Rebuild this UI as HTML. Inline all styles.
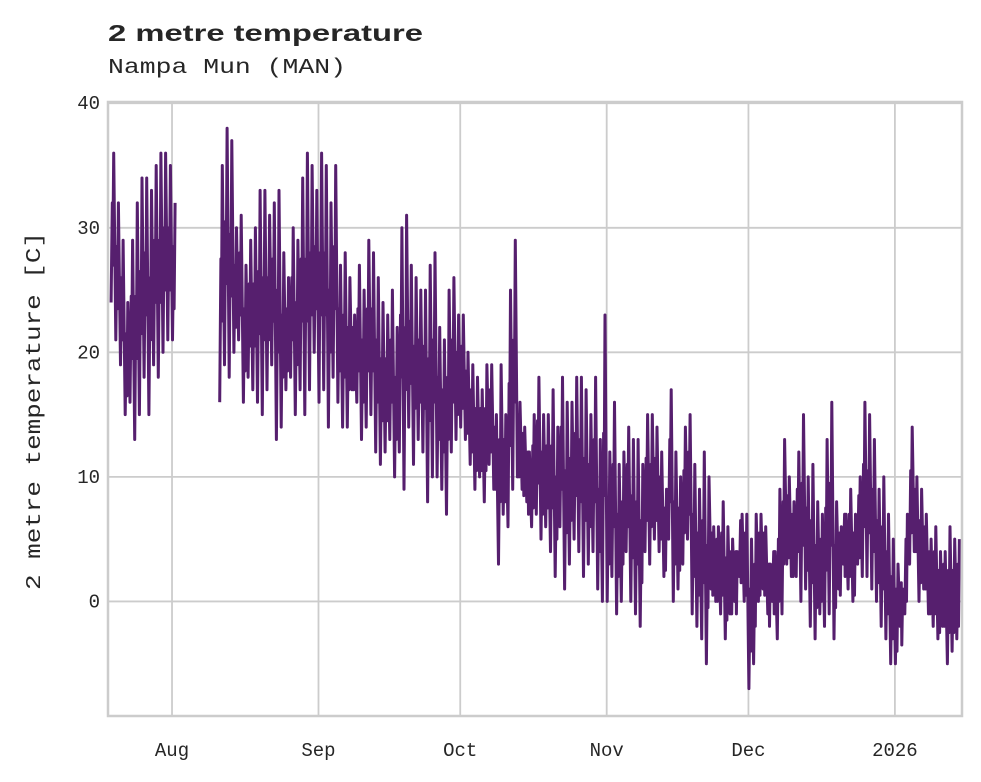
<!DOCTYPE html>
<html><head><meta charset="utf-8"><style>
body{margin:0;background:#fff;}
svg{display:block;}
</style></head><body>
<svg id="chart" width="981" height="782" xmlns="http://www.w3.org/2000/svg">
<text x="108" y="41" font-family="Liberation Sans, sans-serif" font-weight="bold" font-size="23" fill="#262626" textLength="315" lengthAdjust="spacingAndGlyphs">2 metre temperature</text>
<text x="108" y="73" font-family="Liberation Mono, monospace" font-size="21" fill="#262626" textLength="238" lengthAdjust="spacingAndGlyphs">Nampa Mun (MAN)</text>
<text transform="translate(40,411) rotate(-90)" text-anchor="middle" font-family="Liberation Mono, monospace" font-size="21" fill="#262626" textLength="358" lengthAdjust="spacingAndGlyphs">2 metre temperature [C]</text>
<g id="grid"></g>
<g id="ticks"></g>
<path id="series" fill="none" stroke="#561f6e" stroke-width="3" stroke-linejoin="round"/>
<rect x="108" y="102" width="854" height="614" fill="none" stroke="#cccccc" stroke-width="2.5"/>
</svg>
<script>
// days relative to Aug 1 (day 0)
const seg1Start = -13;
const seg1Max = [36,32,29,24,29,32,34,34,33,35,36,36,35,32];
const seg1Min = [24,21,19,15,16,13,15,18,15,19,18,20,21,21];
const seg2Start = 10;
const seg2Max = [35,38,37,30,31,27,29,30,33,33,31,32,33,28,26,30,29,34,36,35,33,
 36,35,32,35,27,28,26,23,27,25,29,28,26,24,23,25,22,30,31,27,26,25,25,27,28,22,21,25,26,23,
 23,20,19,18,17,19,19,15,19,15,25,29,16,14,12,15,18,15,15,17,14,18,16,16,18,18,17,15,18,13,23,
 12,16,11,12,14,13,13,11,15,15,14,12,9,17,12,10,14,15,11,9,12,10,6,6,8,6,5,4,7,7,
 5,7,7,6,3,4,9,13,10,8,12,15,10,11,8,7,13,16,8,6,7,9,7,10,16,15,13,9,10,7,5,
 3,1,7,14,10,9,7,5,6,4,4,6,5,5];
const seg2Min = [16,19,18,20,21,16,18,17,16,15,17,19,13,14,17,18,15,17,15,17,20,
 16,17,14,18,16,14,14,17,16,13,14,15,12,11,12,13,10,12,9,14,11,13,12,8,10,10,9,7,12,13,
 14,13,11,9,10,8,11,9,3,7,6,9,10,9,8,6,7,5,6,4,2,6,1,3,5,4,2,3,4,1,0,
 0,2,-1,0,4,0,-1,-2,4,3,5,4,2,5,0,1,3,5,-1,-2,-3,-5,1,0,-1,-3,-1,0,2,0,
 -7,-5,0,1,-1,0,-3,-1,3,2,2,0,1,-2,-3,-1,-2,-1,-3,1,3,1,0,3,2,2,1,0,-2,-3,-5,
 -5,-2,-1,3,4,0,1,-1,-2,-3,-2,-5,-4,-3];
const yTicks = [0,10,20,30,40];
const xTickDays = [0,31,61,92,122,153];
const xTickLabels = ["Aug","Sep","Oct","Nov","Dec","2026"];

const X0=108,X1=962,Y0=102,Y1=716;
const xMin=-13.55, xMax=167.2, yMin=-9.2, yMax=40.1;
const xs=d=>X0+(d-xMin)/(xMax-xMin)*(X1-X0);
const ys=v=>Y1-(v-yMin)/(yMax-yMin)*(Y1-Y0);
const NS="http://www.w3.org/2000/svg";
const grid=document.getElementById('grid'), ticks=document.getElementById('ticks');
yTicks.forEach(v=>{
  const l=document.createElementNS(NS,'line');
  l.setAttribute('x1',X0);l.setAttribute('x2',X1);l.setAttribute('y1',ys(v));l.setAttribute('y2',ys(v));
  l.setAttribute('stroke','#cccccc');l.setAttribute('stroke-width','1.8');
  
  
  grid.appendChild(l);
  const t=document.createElementNS(NS,'text');
  t.setAttribute('x',X0-8);t.setAttribute('y',ys(v)+6);t.setAttribute('text-anchor','end');
  t.setAttribute('font-family','Liberation Mono, monospace');t.setAttribute('font-size','19');t.setAttribute('fill','#262626');
  t.textContent=v;
  
  
  ticks.appendChild(t);
});
xTickDays.forEach((d,i)=>{
  const l=document.createElementNS(NS,'line');
  l.setAttribute('x1',xs(d));l.setAttribute('x2',xs(d));l.setAttribute('y1',Y0);l.setAttribute('y2',Y1);
  l.setAttribute('stroke','#cccccc');l.setAttribute('stroke-width','1.8');
  
  
  grid.appendChild(l);
  const t=document.createElementNS(NS,'text');
  t.setAttribute('x',xs(d));t.setAttribute('y',756);t.setAttribute('text-anchor','middle');
  t.setAttribute('font-family','Liberation Mono, monospace');t.setAttribute('font-size','19');t.setAttribute('fill','#262626');
  t.textContent=xTickLabels[i];
  
  
  ticks.appendChild(t);
});
function seg(start,mx,mn){
  let p='';
  for(let i=0;i<mx.length;i++){
    const d=start+i;
    p+=(i===0?'M':'L')+xs(d+0.1).toFixed(1)+','+ys(mn[i]).toFixed(1);
    p+='L'+xs(d+0.35).toFixed(1)+','+ys((mn[i]+mx[i])/2+2).toFixed(1);
    p+='L'+xs(d+0.45).toFixed(1)+','+ys((mn[i]+mx[i])/2-3).toFixed(1);
    p+='L'+xs(d+0.65).toFixed(1)+','+ys(mx[i]).toFixed(1);
  }
  return p;
}
document.getElementById('series').setAttribute('d',seg(seg1Start,seg1Max,seg1Min)+seg(seg2Start,seg2Max,seg2Min));
</script>
</body></html>
